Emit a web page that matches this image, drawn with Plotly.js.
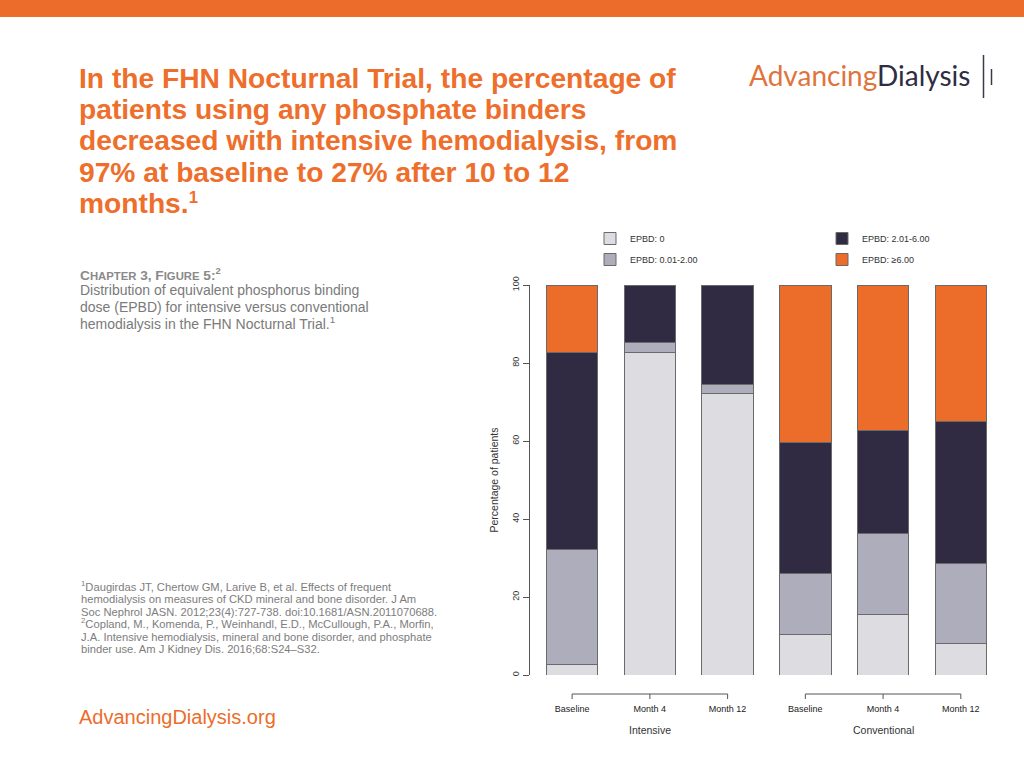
<!DOCTYPE html>
<html>
<head>
<meta charset="utf-8">
<script src="https://cdn.plot.ly/plotly-3.0.1.min.js"></script>
<style>html,body{margin:0;padding:0;background:#fff;}#chart{width:1024px;height:768px;}</style>
</head>
<body>
<div id="chart"></div>
<script>
// ---- data ----
const groups = ['Intensive', 'Conventional'];
const timepoints = ['Baseline', 'Month 4', 'Month 12'];
const seriesNames = ['EPBD: 0', 'EPBD: 0.01-2.00', 'EPBD: 2.01-6.00', 'EPBD: \u22656.00'];
const epbd0    = [2.7, 82.6, 72.2, 10.3, 15.6, 8.0];
const epbd001  = [29.4, 2.6, 2.3, 15.7, 20.6, 20.5];
const epbd201  = [50.6, 14.8, 25.5, 33.7, 26.4, 36.4];
const epbd6    = [17.3, 0, 0, 40.3, 37.4, 35.1];
const yTicks = [0, 20, 40, 60, 80, 100];

const titleLines = ['In the FHN Nocturnal Trial, the percentage of', 'patients using any phosphate binders',
  'decreased with intensive hemodialysis, from', '97% at baseline to 27% after 10 to 12', 'months.'];
const descLines = ['Distribution of equivalent phosphorus binding', 'dose (EPBD) for intensive versus conventional',
  'hemodialysis in the FHN Nocturnal Trial.<sup>1</sup>'];
const refLines = ['<sup>1</sup>Daugirdas JT, Chertow GM, Larive B, et al. Effects of frequent',
  'hemodialysis on measures of CKD mineral and bone disorder. J Am',
  'Soc Nephrol JASN. 2012;23(4):727-738. doi:10.1681/ASN.2011070688.',
  '<sup>2</sup>Copland, M., Komenda, P., Weinhandl, E.D., McCullough, P.A., Morfin,',
  'J.A. Intensive hemodialysis, mineral and bone disorder, and phosphate',
  'binder use. Am J Kidney Dis. 2016;68:S24\u2013S32.'];

// ---- layout helpers ----
const L = 530, R = 1000, T = 285, B = 675;
const W = R - L, H = B - T;
const px = x => (x - L) / W;
const py = y => (B - y) / H;
const FONT = 'Liberation Sans, Arial, Helvetica, sans-serif';
const sized = (lines, size) => lines.map(s => '<span style="font-size:' + size + 'px">' + s + '</span>').join('<br>');

const xCats = [];
const xText = [];
groups.forEach(g => timepoints.forEach(t => { xCats.push(g + ' ' + t); xText.push(t); }));

const colors = ['#dcdce1', '#adadbb', '#302b42', '#ec6c2a'];
const values = [epbd0, epbd001, epbd201, epbd6];
const legends = ['legend', 'legend', 'legend2', 'legend2'];

const traces = values.map((v, i) => ({
  type: 'bar',
  x: xCats,
  y: v,
  name: seriesNames[i],
  legend: legends[i],
  legendgroup: 'g' + i,
  width: 0.66,
  marker: {color: colors[i], line: {color: '#6a6a6a', width: 1}},
  hoverinfo: 'skip'
}));

const shapes = [
  // top orange band
  {type: 'rect', xref: 'paper', yref: 'paper', x0: px(0), x1: px(1024), y0: py(17), y1: py(0),
   fillcolor: '#ec6d2b', line: {width: 0}, layer: 'below'},
  // logo bars
  {type: 'line', xref: 'paper', yref: 'paper', x0: px(983.5), x1: px(983.5), y0: py(55), y1: py(98),
   line: {color: '#3a3a4a', width: 1.5}},
  {type: 'line', xref: 'paper', yref: 'paper', x0: px(991.5), x1: px(991.5), y0: py(69), y1: py(85),
   line: {color: '#3a3a4a', width: 1.5}}
];
groups.forEach((g, gi) => {
  const a = gi * timepoints.length, b = a + timepoints.length - 1;
  shapes.push({type: 'line', xref: 'x', yref: 'paper', x0: a, x1: b, y0: py(694), y1: py(694),
    line: {color: '#555', width: 1}});
  for (let k = a; k <= b; k++) {
    shapes.push({type: 'line', xref: 'x', yref: 'paper', x0: k, x1: k, y0: py(694), y1: py(699),
      line: {color: '#555', width: 1}});
  }
});

const annotations = [
  {xref: 'paper', yref: 'paper', x: px(747), y: py(75), xanchor: 'left', yanchor: 'middle', showarrow: false,
   text: '<span style="color:#e0743c">Advancing</span><span style="color:#2e2d43">Dialysis</span>',
   font: {family: 'Lato, sans-serif', size: 28}},
  {xref: 'paper', yref: 'paper', x: px(78), y: py(263), xanchor: 'left', yanchor: 'top', showarrow: false, align: 'left',
   text: '<b>C<span style="font-size:11.3px">HAPTER</span> 3, F<span style="font-size:11.3px">IGURE</span> 5:<sup>2</sup></b>',
   font: {family: FONT, size: 13.7, color: '#8a8a8a'}},
  {xref: 'paper', yref: 'paper', x: px(78), y: py(280), xanchor: 'left', yanchor: 'top', showarrow: false, align: 'left',
   text: sized(descLines, 14),
   font: {family: FONT, size: 13, color: '#7a7a7a'}},
  {xref: 'paper', yref: 'paper', x: px(79), y: py(576.5), xanchor: 'left', yanchor: 'top', showarrow: false, align: 'left',
   text: sized(refLines, 11.2),
   font: {family: FONT, size: 9.6, color: '#7d7d7d'}},
  {xref: 'paper', yref: 'paper', x: px(77), y: py(717), xanchor: 'left', yanchor: 'middle', showarrow: false,
   text: 'AdvancingDialysis.org', font: {family: FONT, size: 20, color: '#ec6d2b'}}
];
groups.forEach((g, gi) => {
  annotations.push({xref: 'x', yref: 'paper', x: gi * timepoints.length + 1, y: py(730), xanchor: 'center', yanchor: 'middle',
    showarrow: false, text: g, font: {family: FONT, size: 10.5, color: '#333'}});
});

const layout = {
  width: 1024, height: 768,
  paper_bgcolor: '#fff', plot_bgcolor: '#fff',
  margin: {l: L, r: 1024 - R, t: T, b: 768 - B, pad: 0},
  barmode: 'stack',
  bargap: 0.34,
  showlegend: true,
  font: {family: FONT, color: '#333'},
  title: {
    text: sized(titleLines, 28.2) + '<sup>1</sup>',
    x: 79 / 1024, xref: 'container', xanchor: 'left',
    y: 1 - 88 / 768, yref: 'container', yanchor: 'top',
    font: {family: FONT, size: 24, color: '#ee6e2c', weight: 'bold'}
  },
  xaxis: {
    type: 'category', range: [-0.542, 5.504], fixedrange: true,
    tickvals: xCats, ticktext: xText,
    showline: false, showgrid: false, zeroline: false,
    ticks: 'outside', ticklen: 25, tickcolor: 'rgba(0,0,0,0)',
    tickfont: {family: FONT, size: 9, color: '#222'}
  },
  yaxis: {
    range: [0, 100], fixedrange: true,
    tickvals: yTicks, ticktext: yTicks.map(String),
    tickangle: -90,
    showline: true, linecolor: '#555', linewidth: 1,
    ticks: 'outside', ticklen: 6, tickcolor: '#555', tickwidth: 1,
    showgrid: false, zeroline: false,
    tickfont: {family: FONT, size: 9, color: '#333'},
    title: {text: 'Percentage of patients', font: {family: FONT, size: 10.5, color: '#333'}, standoff: 10}
  },
  legend: {
    xref: 'paper', yref: 'paper', x: px(590), y: py(224), xanchor: 'left', yanchor: 'top',
    traceorder: 'grouped', tracegroupgap: 2, bgcolor: 'rgba(0,0,0,0)',
    font: {family: FONT, size: 9, color: '#333'}
  },
  legend2: {
    xref: 'paper', yref: 'paper', x: px(822), y: py(224), xanchor: 'left', yanchor: 'top',
    traceorder: 'grouped', tracegroupgap: 2, bgcolor: 'rgba(0,0,0,0)',
    font: {family: FONT, size: 9, color: '#333'}
  },
  shapes: shapes,
  annotations: annotations
};

Plotly.newPlot('chart', traces, layout, {staticPlot: true, displayModeBar: false});
</script>
</body>
</html>
